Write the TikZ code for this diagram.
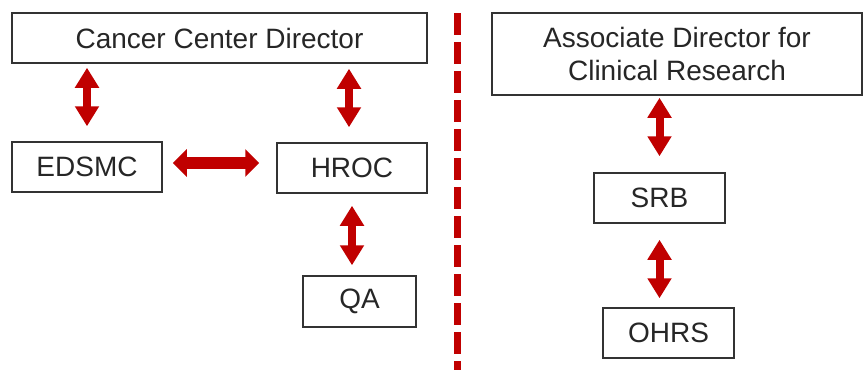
\documentclass[tikz,border=0pt]{standalone}
\usepackage{fontspec}
\setmainfont{Liberation Sans}
\usetikzlibrary{arrows.meta}
\definecolor{darkred}{RGB}{192,0,0}
\tikzset{
  box/.style={draw=black!80, line width=0.75pt, inner sep=0pt, align=center,
    text=black!85, font=\fontsize{14}{16.5}\selectfont},
  link/.style={{Triangle[width=11.5pt,length=10pt]}-{Triangle[width=11.5pt,length=10pt]},
    line width=4pt, darkred},
  widelink/.style={{Triangle[width=13.5pt,length=7pt]}-{Triangle[width=13.5pt,length=7pt]},
    line width=6pt, darkred},
}
\begin{document}
\begin{tikzpicture}[x=0.5pt, y=-0.5pt]
   \def\W{867}
   \def\H{370}
   \def\Xsep{457}

   \useasboundingbox (0,0) rectangle (\W,\H);

	% left side
        \node[box, minimum width=207.5pt, minimum height=25pt] (ccd) at (219.5,38) {Cancer Center Director};
        \node[box, minimum width=75pt, minimum height=25pt] (edsmc) at (87,167) {EDSMC};
        \node[box, minimum width=75pt, minimum height=25pt] (hroc) at (352,168) {HROC};
        \node[box, minimum width=56.5pt, minimum height=25.5pt] (qa) at (359.5,301.5) {QA};

	% right side
        \node[box, minimum width=185pt, minimum height=41pt] (adcr) at (677,54) {Associate Director for\\Clinical Research};
        \node[box, minimum width=65.5pt, minimum height=25pt] (srb) at (659.5,198) {SRB};
        \node[box, minimum width=65.5pt, minimum height=25pt] (ohrs) at (668.5,333) {OHRS};

        % divider
        \coordinate (septop) at (\Xsep,13);
        \coordinate (sepbot) at (\Xsep,\H);
        \draw [darkred, line width=3.5pt, dash pattern=on 11pt off 3.5pt] (septop) -- (sepbot);

        % arrows
        \draw [link, shorten <=2pt, shorten >=7.5pt] (ccd.south -| edsmc.north) -- (edsmc.north);
        \draw [link, shorten <=2.5pt, shorten >=7.5pt] ([xshift=-1.5pt]ccd.south -| hroc.north) -- ([xshift=-1.5pt]hroc.north);
        \draw [widelink, shorten <=5pt, shorten >=8.5pt] ([yshift=2pt]edsmc.east) -- ([yshift=2.5pt]hroc.west);
        \draw [link, shorten <=6pt, shorten >=5pt] (hroc.south) -- (hroc.south |- qa.north);
        \draw [link, shorten <=1pt, shorten >=8pt] (adcr.south -| srb.north) -- (srb.north);
        \draw [link, shorten <=8pt, shorten >=4.5pt] (srb.south) -- (srb.south |- ohrs.north);
\end{tikzpicture}
\end{document}
